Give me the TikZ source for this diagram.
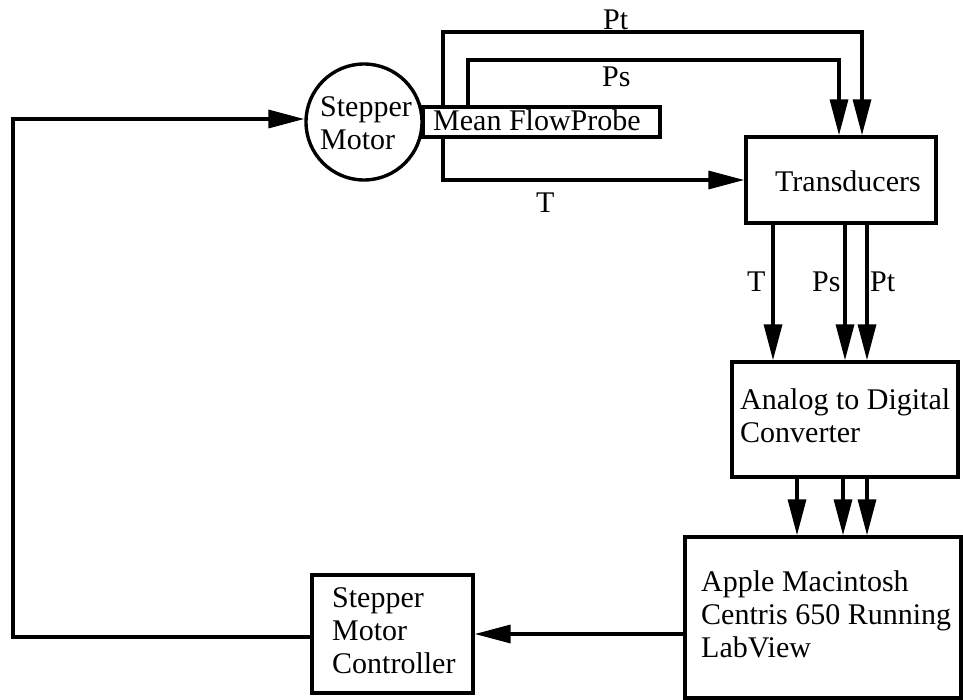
\documentclass[tikz,border=0pt]{standalone}
\usepackage{fontspec}
\setmainfont{Liberation Serif}
\usetikzlibrary{arrows.meta}
\begin{document}
\begin{tikzpicture}[x=1pt,y=-1pt,
  every node/.style={font=\fontsize{30}{33}\selectfont, inner sep=0pt},
  box/.style={draw, line width=3.4pt, rectangle, fill=white},
  lbl/.style={anchor=base west, align=left},
  arr/.style={line width=3.4pt, -{Triangle[length=36pt,width=18pt]}}]
\useasboundingbox (0,0) rectangle (963,700);
% nodes
\node[box, circle, minimum size=116pt] (motor) at (364,122) {};
\node[lbl] (motorT) at (320,150) {Stepper\\Motor};
\node[box, minimum width=237pt, minimum height=30pt] (probe) at (541.5,122) {};
\node[lbl] (probeT) at (433,131) {Mean FlowProbe};
\node[box, minimum width=190pt, minimum height=86pt] (trans) at (841,180) {};
\node[lbl] (transT) at (775,192) {Transducers};
\node[box, minimum width=226pt, minimum height=115pt] (adc) at (845,419.5) {};
\node[lbl] (adcT) at (740,442) {Analog to Digital\\Converter};
\node[box, minimum width=276pt, minimum height=161pt] (apple) at (823,617.5) {};
\node[lbl] (appleT) at (701,657) {Apple Macintosh\\Centris 650 Running\\LabView};
\node[box, minimum width=161pt, minimum height=118pt] (ctrl) at (392.5,634) {};
\node[lbl] (ctrlT) at (332,673) {Stepper\\Motor\\Controller};
% probe to transducers
\coordinate (ptL) at (443,32); \coordinate (ptR) at (862,32);
\coordinate (psL) at (468,60); \coordinate (psR) at (839,60);
\draw[arr] (probe.north -| ptL) -- (ptL) -- (ptR) -- (trans.north -| ptR);
\draw[arr] (probe.north -| psL) -- (psL) -- (psR) -- (trans.north -| psR);
\draw[arr] (probe.south -| ptL) |- (trans.west);
\node[lbl] (lPt) at (603,30) {Pt};
\node[lbl] (lPs) at (602,87) {Ps};
\node[lbl] (lT) at (536,213) {T};
% transducers to adc
\coordinate (da) at (773,300); \coordinate (db) at (845,300); \coordinate (dc) at (867,300);
\draw[arr] (trans.south -| da) -- (adc.north -| da);
\draw[arr] (trans.south -| db) -- (adc.north -| db);
\draw[arr] (trans.south -| dc) -- (adc.north -| dc);
\node[lbl] (lT2) at (747,292) {T};
\node[lbl] (lPs2) at (812,292) {Ps};
\node[lbl] (lPt2) at (870,292) {Pt};
% adc to apple
\coordinate (ea) at (797,500); \coordinate (eb) at (843,500); \coordinate (ec) at (867,500);
\draw[arr] (adc.south -| ea) -- (apple.north -| ea);
\draw[arr] (adc.south -| eb) -- (apple.north -| eb);
\draw[arr] (adc.south -| ec) -- (apple.north -| ec);
% apple to controller
\draw[arr] (apple.west |- ctrl.east) -- (ctrl.east);
% feedback to motor
\coordinate (fbB) at (13,637); \coordinate (fbT) at (13,119);
\draw[arr] (ctrl.west |- fbB) -- (fbB) -- (fbT) -- (motor.west |- fbT);
\end{tikzpicture}
\end{document}
